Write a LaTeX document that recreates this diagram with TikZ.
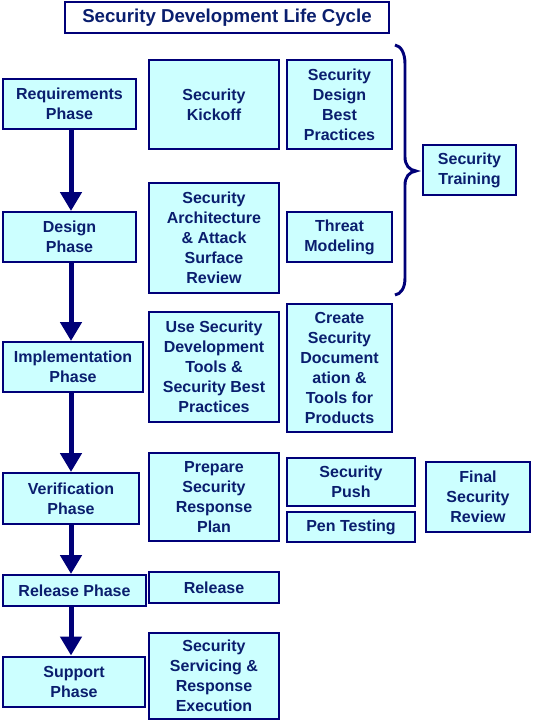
\documentclass[tikz,border=0pt]{standalone}
\usepackage{fontspec}
\setmainfont{Liberation Sans}
\usetikzlibrary{arrows.meta}

\definecolor{sdlnavy}{RGB}{0,0,120}
\definecolor{sdltext}{RGB}{10,30,110}
\definecolor{sdlfill}{RGB}{204,255,255}

\tikzset{every picture/.style={line width=0.75pt}}
\tikzset{
  sdlbox/.style 2 args={draw=sdlnavy, fill=sdlfill, line width=1.5pt, text=sdltext,
    align=center, inner sep=0pt, minimum width=#1*0.75pt, minimum height=#2*0.75pt,
    font=\bfseries\fontsize{12}{15}\selectfont},
  phasearrow/.style={draw=sdlnavy, line width=3.75pt,
    -{Triangle[width=15.75pt,length=14.25pt]}},
  sdlbrace/.style={draw=sdlnavy, line width=2.2pt}
}

\begin{document}
\begin{tikzpicture}[x=0.75pt,y=0.75pt,yscale=-1,xscale=1]
\useasboundingbox (0,0) rectangle (533,725);

%Shape: Title
\node [sdlbox={324}{31}, fill=white, font=\bfseries\fontsize{14}{16}\selectfont] (title) at (227,17.5) {Security Development Life Cycle};

% Phase column
\node [sdlbox={133}{50}] (req) at (69.5,104) {Requirements\\Phase};
\node [sdlbox={133}{50}] (design) at (69.5,237) {Design\\Phase};
\node [sdlbox={140}{50}] (impl) at (73,367) {Implementation\\Phase};
\node [sdlbox={136}{51}] (verif) at (71,498.5) {Verification\\Phase};
\node [sdlbox={143}{31}] (relphase) at (74.5,590.5) {Release Phase};
\node [sdlbox={142}{50}] (support) at (74,681.5) {Support\\Phase};

% Activity boxes
\node [sdlbox={130}{89}] (kickoff) at (214,104.5) {Security\\Kickoff};
\node [sdlbox={105}{89}] (designbp) at (339.5,104.5) {Security\\Design\\Best\\Practices};
\node [sdlbox={93}{50}] (training) at (469.5,170) {Security\\Training};
\node [sdlbox={130}{110}] (arch) at (214,238) {Security\\Architecture\\\& Attack\\Surface\\Review};
\node [sdlbox={105}{50}] (threat) at (339.5,237) {Threat\\Modeling};
\node [sdlbox={130}{110}] (usetools) at (214,367) {Use Security\\Development\\Tools \&\\Security Best\\Practices};
\node [sdlbox={105}{128}] (createdocs) at (339.5,368) {Create\\Security\\Document\\ation \&\\Tools for\\Products};
\node [sdlbox={130}{88}] (prepare) at (214,497) {Prepare\\Security\\Response\\Plan};
\node [sdlbox={128}{48}] (push) at (351,482) {Security\\Push};
\node [sdlbox={128}{30}] (pen) at (351,527) {Pen Testing};
\node [sdlbox={104}{70}] (final) at (478,497) {Final\\Security\\Review};
\node [sdlbox={130}{31}] (release) at (214,587.5) {Release};
\node [sdlbox={130}{86}] (servicing) at (214,676) {Security\\Servicing \&\\Response\\Execution};

%Shape: Brace
\draw [sdlbrace] (395,45) .. controls (401,46) and (405,53) .. (405,64) -- (405,157) .. controls (405,165) and (409,170) .. (416,171) .. controls (409,172) and (405,177) .. (405,185) -- (405,278) .. controls (405,288) and (401,294) .. (395,295) ;

% Phase arrows
\coordinate (spine) at (71,0);
\draw [phasearrow] (req.south -| spine) -- (design.north -| spine);
\draw [phasearrow] (design.south -| spine) -- (impl.north -| spine);
\draw [phasearrow] (impl.south -| spine) -- (verif.north -| spine);
\draw [phasearrow] (verif.south -| spine) -- (relphase.north -| spine);
\draw [phasearrow] (relphase.south -| spine) -- (support.north -| spine);
\end{tikzpicture}
\end{document}
